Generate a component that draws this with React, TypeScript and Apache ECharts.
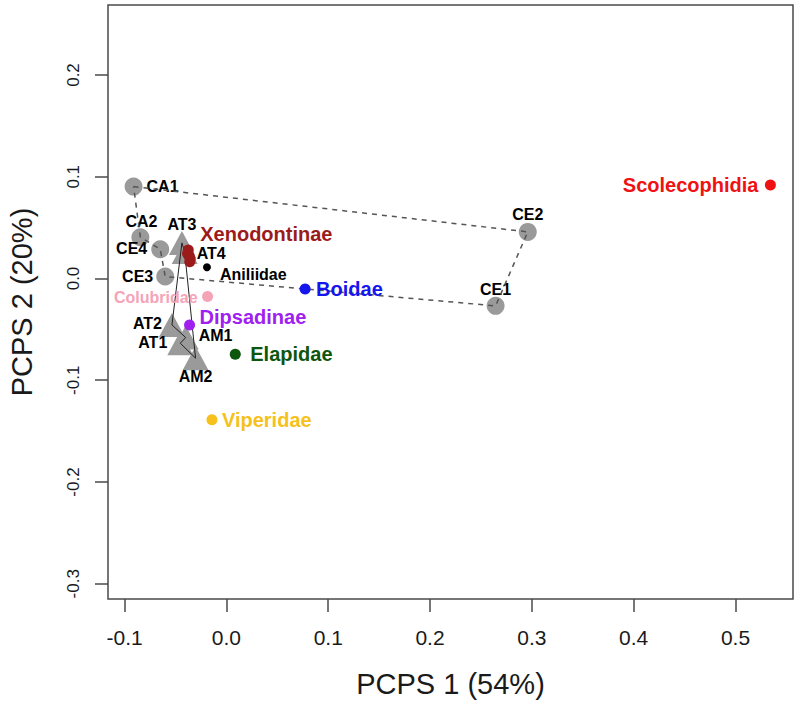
import React, { useEffect, useRef } from "react";
import * as echarts from "echarts";

// ---- axes ----
const xTicks = [-0.1, 0.0, 0.1, 0.2, 0.3, 0.4, 0.5];
const yTicks = [-0.3, -0.2, -0.1, 0.0, 0.1, 0.2];
const xMin = -0.1163;
const xMax = 0.5565;
const yMin = -0.315;
const yMax = 0.2688;
const xTitle = "PCPS 1 (54%)";
const yTitle = "PCPS 2 (20%)";

// ---- C group (grey circles) ----
const cNames = ["CA1", "CA2", "CE4", "CE3", "CE2", "CE1"];
const cX = [-0.0912, -0.0845, -0.065, -0.0601, 0.296, 0.2644];
const cY = [0.0903, 0.0406, 0.0288, 0.0019, 0.0458, -0.0269];
const cOutline = ["CA1", "CE2", "CE1", "CE3", "CE4", "CA2", "CA1"];

// ---- A group (grey triangles) ----
const aNames = ["AT3", "AT4", "AT2", "AT1", "AM1", "AM2"];
const aX = [-0.0437, -0.041, -0.0535, -0.0453, -0.04, -0.0303];
const aY = [0.035, 0.026, -0.0456, -0.0636, -0.058, -0.0783];
const aOutline = ["AT3", "AT2", "AM1", "AT1", "AM2", "AT4", "AT3"];

// ---- families ----
const famNames = ["Scolecophidia", "Boidae", "Aniliidae", "Xenodontinae", "Colubridae", "Dipsadinae", "Elapidae", "Viperidae"];
const famX = [0.5343, 0.0773, -0.0191, -0.0375, -0.0185, -0.0362, 0.0087, -0.0142];
const famY = [0.0919, -0.0103, 0.0111, 0.028, -0.0178, -0.0456, -0.0744, -0.1389];
// additional Xenodontinae points (cluster)
const xenoX = [-0.0368, -0.036, -0.0382, -0.0355];
const xenoY = [0.0225, 0.0165, 0.0245, 0.0195];

const famColors: Record<string, string> = {
  Scolecophidia: "#EE1212",
  Boidae: "#1515EE",
  Aniliidae: "#000000",
  Xenodontinae: "#9B1B1B",
  Colubridae: "#F5A3B7",
  Dipsadinae: "#A020F0",
  Elapidae: "#0E560E",
  Viperidae: "#F6C11C",
};

const FONT = "'Liberation Sans', Arial, Helvetica, sans-serif";

// label placement: [position, gap from point centre (px), dx, dy, fontSize]
type Place = [string, number, number, number, number];
const place: Record<string, Place> = {
  CA1: ["right", 13, 0, 0, 16],
  CA2: ["top", 8, 1, 0, 16],
  CE4: ["left", 13, 0, -1, 16],
  CE3: ["left", 12, 0, 0, 16],
  CE2: ["top", 9, 0, 0, 16],
  CE1: ["top", 8, 0, 0, 16],
  AT3: ["top", 10, 0, 0, 16],
  AT4: ["right", 11, 0, 1, 16],
  AT2: ["left", 9, 0, -1, 16],
  AT1: ["left", 12, 0, -1, 16],
  AM1: ["right", 12, 0, -2, 16],
  AM2: ["bottom", 10, 0, 0, 16],
  Scolecophidia: ["left", 12, 0, 0, 20],
  Boidae: ["right", 11, 0, 0, 20],
  Aniliidae: ["right", 13, 0, 7, 16],
  Xenodontinae: ["right", 12, 0, -16, 20],
  Colubridae: ["left", 10, 0, 1, 16],
  Dipsadinae: ["right", 10, 0, -8, 20],
  Elapidae: ["right", 15, 0, 0, 20],
  Viperidae: ["right", 10, 0, 0, 20],
};

function makeLabel(name: string, size: number, color: string) {
  const p = place[name];
  return {
    show: true,
    formatter: name,
    position: p[0],
    distance: p[1] - size / 2,
    offset: [p[2], p[3]],
    fontSize: p[4],
    lineHeight: p[4],
    fontWeight: "bold",
    fontFamily: FONT,
    color,
  };
}

const CIRCLE = 18;
const TRI_W = 26;
const TRI_H = 24;
const DOT = 11;

export default function App() {
  const ref = useRef<HTMLDivElement>(null);

  useEffect(() => {
    if (!ref.current) return;
    const chart = echarts.init(ref.current, undefined, { renderer: "svg" });

    const cPoint = (n: string) => {
      const i = cNames.indexOf(n);
      return [cX[i], cY[i]];
    };
    const aPoint = (n: string) => {
      const i = aNames.indexOf(n);
      return [aX[i], aY[i]];
    };

    const familySeries: any[] = famNames.map((n, i) => {
      const size = n === "Aniliidae" ? 8 : DOT;
      const data: any[] = [
        {
          value: [famX[i], famY[i]],
          label: makeLabel(n, size, famColors[n]),
        },
      ];
      if (n === "Xenodontinae") {
        xenoX.forEach((x, j) => data.push({ value: [x, xenoY[j]], label: { show: false } }));
      }
      return {
        type: "scatter",
        name: n,
        symbol: "circle",
        symbolSize: size,
        itemStyle: { color: famColors[n], opacity: 1 },
        data,
        z: 5,
      };
    });

    const option: any = {
      animation: false,
      backgroundColor: "#ffffff",
      grid: {
        left: 108,
        right: 7,
        top: 5,
        bottom: 109,
        show: true,
        borderColor: "#4a4a4a",
        borderWidth: 1.5,
        backgroundColor: "transparent",
        containLabel: false,
        outerBoundsMode: "none",
      },
      xAxis: {
        type: "value",
        min: xMin,
        max: xMax,
        axisLine: { show: false, onZero: false },
        splitLine: { show: false },
        axisTick: {
          show: true,
          customValues: xTicks,
          length: 13,
          lineStyle: { color: "#4a4a4a", width: 1.5 },
        },
        axisLabel: {
          customValues: xTicks,
          formatter: (v: number) => v.toFixed(1),
          fontSize: 21,
          lineHeight: 21,
          color: "#1a1a1a",
          fontFamily: FONT,
          margin: 28,
        },
        name: xTitle,
        nameLocation: "middle",
        nameGap: 70,
        nameMoveOverlap: false,
        nameTextStyle: { fontSize: 29, lineHeight: 29, color: "#1a1a1a", fontFamily: FONT },
      },
      yAxis: {
        type: "value",
        min: yMin,
        max: yMax,
        axisLine: { show: false, onZero: false },
        splitLine: { show: false },
        axisTick: {
          show: true,
          customValues: yTicks,
          length: 13,
          lineStyle: { color: "#4a4a4a", width: 1.5 },
        },
        axisLabel: {
          customValues: yTicks,
          formatter: (v: number) => v.toFixed(1),
          rotate: 90,
          fontSize: 17,
          lineHeight: 17,
          color: "#1a1a1a",
          fontFamily: FONT,
          margin: 26,
        },
        name: yTitle,
        nameLocation: "middle",
        nameRotate: 90,
        nameGap: 72,
        nameMoveOverlap: false,
        nameTextStyle: { fontSize: 29, lineHeight: 29, color: "#1a1a1a", fontFamily: FONT },
      },
      series: [
        {
          type: "scatter",
          name: "C",
          symbol: "circle",
          symbolSize: CIRCLE,
          itemStyle: { color: "#9a9a9a", opacity: 1 },
          data: cNames.map((n, i) => ({
            value: [cX[i], cY[i]],
            label: makeLabel(n, CIRCLE, "#000000"),
          })),
          z: 2,
        },
        {
          type: "scatter",
          name: "A",
          symbol: "triangle",
          symbolSize: [TRI_W, TRI_H],
          itemStyle: { color: "#9a9a9a", opacity: 1 },
          data: aNames.map((n, i) => ({
            value: [aX[i], aY[i]],
            label: makeLabel(n, TRI_H, "#000000"),
          })),
          z: 2,
        },
        {
          type: "line",
          name: "C outline",
          data: cOutline.map(cPoint),
          symbol: "none",
          lineStyle: { color: "#555555", width: 1.5, type: [5, 5] },
          z: 3,
        },
        {
          type: "line",
          name: "A outline",
          data: aOutline.map(aPoint),
          symbol: "none",
          lineStyle: { color: "#222222", width: 1 },
          z: 3,
        },
        ...familySeries,
      ],
    };

    chart.setOption(option);
    return () => chart.dispose();
  }, []);

  return <div ref={ref} style={{ width: 800, height: 708, position: "absolute", left: 0, top: 0 }} />;
}
